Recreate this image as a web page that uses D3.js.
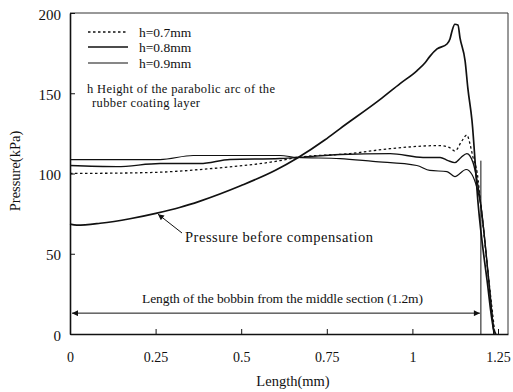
<!DOCTYPE html>
<html>
<head>
<meta charset="utf-8">
<script src="https://cdn.jsdelivr.net/npm/d3@7"></script>
<style>
  html, body { margin: 0; padding: 0; background: #fff; }
  svg { display: block; }
  text { font-family: "Liberation Serif", "DejaVu Serif", serif; fill: #111; }
</style>
</head>
<body>
<svg id="chart" width="513" height="392"></svg>
<script>
// ---- data ----
const xTicks = [0, 0.25, 0.5, 0.75, 1, 1.25];
const xTickLabels = ["0", "0.25", "0.5", "0.75", "1", "1.25"];
const yTicks = [0, 50, 100, 150, 200];
const yTickLabels = ["0", "50", "100", "150", "200"];

const seriesNames = ["h=0.7mm", "h=0.8mm", "h=0.9mm"];

const preCompX = [0, 0.02, 0.088, 0.175, 0.254, 0.32, 0.38, 0.5, 0.6, 0.663, 0.745, 0.789, 0.905, 0.964, 1.013, 1.037, 1.051, 1.072, 1.101, 1.11, 1.116, 1.124, 1.133, 1.139, 1.154, 1.162, 1.174, 1.192, 1.218, 1.238, 1.244];
const preCompY = [68.5, 67.8, 69, 71.8, 75.3, 78.8, 82.8, 92.5, 102, 109.5, 121, 128, 146, 156, 164, 169, 173, 177.6, 180.7, 184, 189, 193, 192.5, 184.5, 170, 153, 133, 81, 33.5, 2.5, 0];

const h07X = [0, 0.234, 0.409, 0.613, 0.663, 0.818, 0.935, 1.081, 1.11, 1.124, 1.145, 1.159, 1.168, 1.177, 1.189, 1.2, 1.22, 1.241];
const h07Y = [100, 100.6, 103, 108, 110, 112.4, 115.5, 117.4, 116, 114, 120.5, 124, 118.6, 110, 100.6, 80, 40, 0];

const h08X = [0, 0.137, 0.263, 0.38, 0.467, 0.613, 0.663, 0.789, 0.935, 1.031, 1.081, 1.104, 1.124, 1.142, 1.159, 1.177, 1.189, 1.2, 1.22, 1.238];
const h08Y = [105, 104.3, 106.2, 106.2, 108.7, 109.3, 110, 111.8, 112.4, 110, 110, 108, 106.8, 110, 112.4, 106.8, 95.6, 80, 40, 0];

const h09X = [0, 0.263, 0.36, 0.497, 0.613, 0.663, 0.789, 0.885, 1.013, 1.051, 1.101, 1.124, 1.157, 1.174, 1.189, 1.2, 1.22, 1.238];
const h09Y = [108.7, 108.7, 111.2, 111.2, 111.2, 110, 109.3, 107.5, 105, 101.9, 101.2, 98.1, 102.5, 99.4, 90.7, 80, 40, 0];

const bobbinLength = 1.2;
const bobbinArrowY = 13;
const bobbinMarkTop = 108;
const preCompPointer = [0.254, 75.3];

// ---- chart ----
const svg = d3.select("#chart");
const x = d3.scaleLinear().domain([0, 1.2792]).range([70, 508]);
const y = d3.scaleLinear().domain([0, 200]).range([334, 13]);
const ink = "#111";

const zip = (xs, ys) => xs.map((v, i) => [v, ys[i]]);
const line = d3.line().x(d => x(d[0])).y(d => y(d[1])).curve(d3.curveMonotoneX);

// frame (top & right)
svg.append("line").attr("x1", x(0)).attr("x2", x.range()[1]).attr("y1", y(200)).attr("y2", y(200))
  .attr("stroke", "#333").attr("stroke-width", 1);
svg.append("line").attr("x1", x.range()[1]).attr("x2", x.range()[1]).attr("y1", y(200)).attr("y2", y(0))
  .attr("stroke", "#333").attr("stroke-width", 1);

// axes
const xAxis = d3.axisBottom(x).tickValues(xTicks).tickSizeInner(-5).tickSizeOuter(0)
  .tickFormat((d, i) => xTickLabels[i]);
const gx = svg.append("g").attr("transform", `translate(0,${y(0)})`).call(xAxis);
gx.select(".domain").attr("stroke", ink).attr("stroke-width", 1.6);
gx.selectAll(".tick line").attr("stroke", ink);
gx.selectAll(".tick text").attr("y", 18).attr("font-size", 14).attr("fill", ink)
  .style("font-family", "'Liberation Serif', serif");

const yAxis = d3.axisLeft(y).tickValues(yTicks).tickSizeInner(-5).tickSizeOuter(0)
  .tickFormat((d, i) => yTickLabels[i]);
const gy = svg.append("g").attr("transform", `translate(${x(0)},0)`).call(yAxis);
gy.select(".domain").attr("stroke", ink).attr("stroke-width", 1.6);
gy.selectAll(".tick line").attr("stroke", ink);
gy.selectAll(".tick text").attr("x", -9).attr("dy", "0.4em").attr("font-size", 15).attr("fill", ink)
  .style("font-family", "'Liberation Serif', serif");

// axis titles
svg.append("text").attr("x", 293).attr("y", 386).attr("text-anchor", "middle")
  .attr("font-size", 14.5).text("Length(mm)");
svg.append("text").attr("transform", "translate(20,171) rotate(-90)").attr("text-anchor", "middle")
  .attr("font-size", 14.5).text("Pressure(kPa)");

// series
svg.append("path").datum(zip(preCompX, preCompY)).attr("d", line)
  .attr("fill", "none").attr("stroke", ink).attr("stroke-width", 1.7);
svg.append("path").datum(zip(h07X, h07Y)).attr("d", line)
  .attr("fill", "none").attr("stroke", ink).attr("stroke-width", 1.3).attr("stroke-dasharray", "2.5,2.5");
svg.append("path").datum(zip(h08X, h08Y)).attr("d", line)
  .attr("fill", "none").attr("stroke", ink).attr("stroke-width", 1.4);
svg.append("path").datum(zip(h09X, h09Y)).attr("d", line)
  .attr("fill", "none").attr("stroke", ink).attr("stroke-width", 1.2);

// legend
const legendRows = [
  { name: seriesNames[0], dash: "2.5,2.5", w: 1.3, yy: 32 },
  { name: seriesNames[1], dash: null, w: 1.4, yy: 47 },
  { name: seriesNames[2], dash: null, w: 1.2, yy: 63 }
];
legendRows.forEach(r => {
  const l = svg.append("line").attr("x1", 88).attr("x2", 128).attr("y1", r.yy).attr("y2", r.yy)
    .attr("stroke", ink).attr("stroke-width", r.w);
  if (r.dash) l.attr("stroke-dasharray", r.dash);
  svg.append("text").attr("x", 139).attr("y", r.yy + 4.5).attr("font-size", 13.5).text(r.name);
});
svg.append("text").attr("x", 87).attr("y", 93).attr("font-size", 12.5)
  .attr("textLength", 188).attr("lengthAdjust", "spacing")
  .text("h Height of the parabolic arc of the");
svg.append("text").attr("x", 92).attr("y", 107).attr("font-size", 12.5)
  .attr("textLength", 108).attr("lengthAdjust", "spacing")
  .text("rubber coating layer");

// defs arrowhead
const defs = svg.append("defs");
defs.append("marker").attr("id", "ah").attr("viewBox", "0 0 10 10").attr("refX", 10).attr("refY", 5)
  .attr("markerWidth", 9).attr("markerHeight", 6).attr("markerUnits", "userSpaceOnUse").attr("orient", "auto-start-reverse")
  .append("path").attr("d", "M0,0 L10,5 L0,10 z").attr("fill", ink);

// pressure before compensation annotation
svg.append("line").attr("x1", 182).attr("y1", 233)
  .attr("x2", x(preCompPointer[0]) + 1).attr("y2", y(preCompPointer[1]) + 1)
  .attr("stroke", ink).attr("stroke-width", 1).attr("marker-end", "url(#ah)");
svg.append("text").attr("x", 185).attr("y", 242).attr("font-size", 14.5)
  .attr("textLength", 188).attr("lengthAdjust", "spacing")
  .text("Pressure before compensation");

// bobbin length annotation
svg.append("line").attr("x1", x(0) + 2).attr("x2", x(bobbinLength) - 1)
  .attr("y1", y(bobbinArrowY)).attr("y2", y(bobbinArrowY))
  .attr("stroke", ink).attr("stroke-width", 1)
  .attr("marker-start", "url(#ah)").attr("marker-end", "url(#ah)");
svg.append("line").attr("x1", x(bobbinLength)).attr("x2", x(bobbinLength))
  .attr("y1", y(bobbinMarkTop)).attr("y2", y(0))
  .attr("stroke", ink).attr("stroke-width", 1);
svg.append("text").attr("x", 142).attr("y", 303).attr("font-size", 13.5)
  .attr("textLength", 281).attr("lengthAdjust", "spacing")
  .text("Length of the bobbin from the middle section (1.2m)");
</script>
</body>
</html>
